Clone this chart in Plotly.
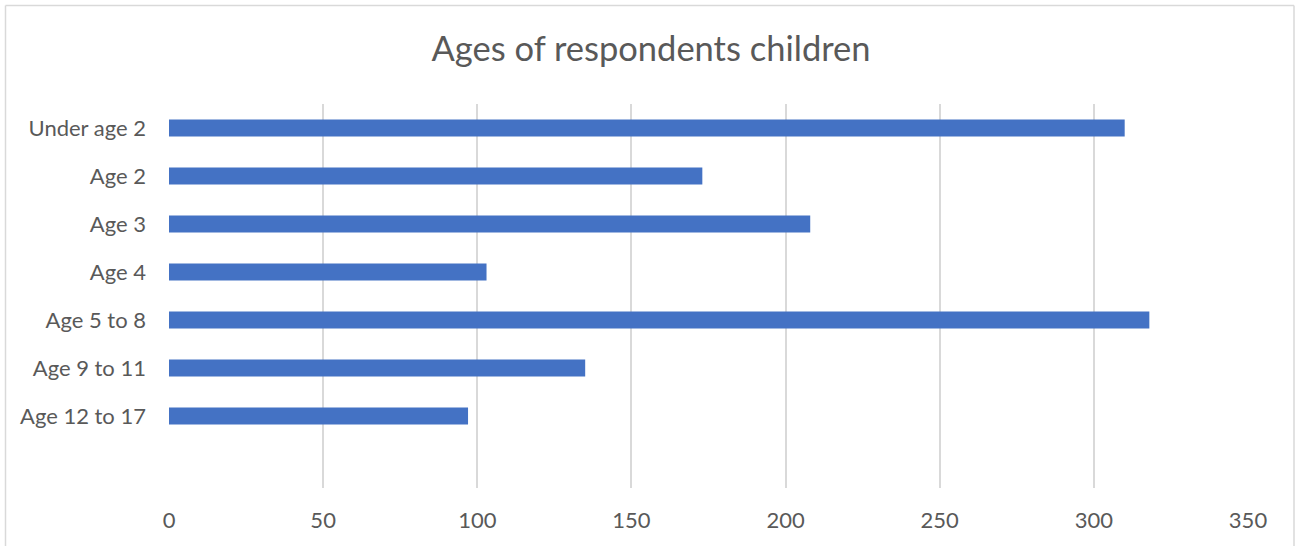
import plotly.graph_objects as go

categories = ["Under age 2", "Age 2", "Age 3", "Age 4", "Age 5 to 8", "Age 9 to 11", "Age 12 to 17"]
values = [310, 173, 208, 103, 318, 135, 97]
x_ticks = [0, 50, 100, 150, 200, 250, 300, 350]
title_text = "Ages of respondents children"

W, H = 1295, 546
ML, MR, MT, MB = 169, 47, 104, 58
PW, PH = W - ML - MR, H - MT - MB

def px_x(p):
    return (p - ML) / PW

def px_y(p):
    return 1 - (p - MT) / PH

TEXT = "#595959"
GRID = "#d9d9d9"
FONT = "Lato, 'Open Sans', sans-serif"

fig = go.Figure()
fig.add_trace(go.Bar(
    x=values,
    y=categories,
    orientation="h",
    marker=dict(color="#4472C4", line=dict(width=0)),
    width=0.35,
    hoverinfo="x+y",
))

fig.update_layout(
    width=W, height=H,
    margin=dict(l=ML, r=MR, t=MT, b=MB, pad=0),
    paper_bgcolor="white",
    plot_bgcolor="white",
    showlegend=False,
    font=dict(family=FONT, color=TEXT, size=22),
    title=dict(
        text=title_text,
        x=651 / W, xanchor="center", xref="container",
        y=1 - 49 / H, yanchor="middle", yref="container",
        font=dict(family=FONT, size=34.5, color=TEXT),
    ),
    xaxis=dict(
        range=[0, 350],
        tickvals=x_ticks,
        ticktext=[str(v) for v in x_ticks],
        showgrid=True, gridcolor=GRID, gridwidth=2,
        zeroline=False, showline=False,
        ticks="", ticklabelstandoff=17,
        tickfont=dict(family=FONT, size=22, color=TEXT),
        automargin=False,
        fixedrange=True,
    ),
    yaxis=dict(
        type="category",
        categoryorder="array", categoryarray=categories,
        range=[len(categories) + 0.5, -0.5],
        showgrid=False, zeroline=False, showline=False,
        ticks="", ticklabelstandoff=22,
        tickfont=dict(family=FONT, size=22, color=TEXT),
        automargin=False,
        fixedrange=True,
    ),
    shapes=[
        dict(type="line", xref="paper", yref="paper",
             x0=px_x(5.5), x1=px_x(5.5), y0=px_y(5.5), y1=px_y(H + 10),
             line=dict(color=GRID, width=1.5)),
        dict(type="line", xref="paper", yref="paper",
             x0=px_x(5.5), x1=px_x(1294), y0=px_y(5.5), y1=px_y(5.5),
             line=dict(color=GRID, width=1.5)),
        dict(type="line", xref="paper", yref="paper",
             x0=px_x(1294), x1=px_x(1294), y0=px_y(5.5), y1=px_y(H + 10),
             line=dict(color=GRID, width=1.5)),
    ],
)

fig.write_html(
    "out.html",
    config={"displayModeBar": False},
    post_script="document.body.style.margin='0';document.body.style.padding='0';document.body.style.overflow='hidden';",
)
